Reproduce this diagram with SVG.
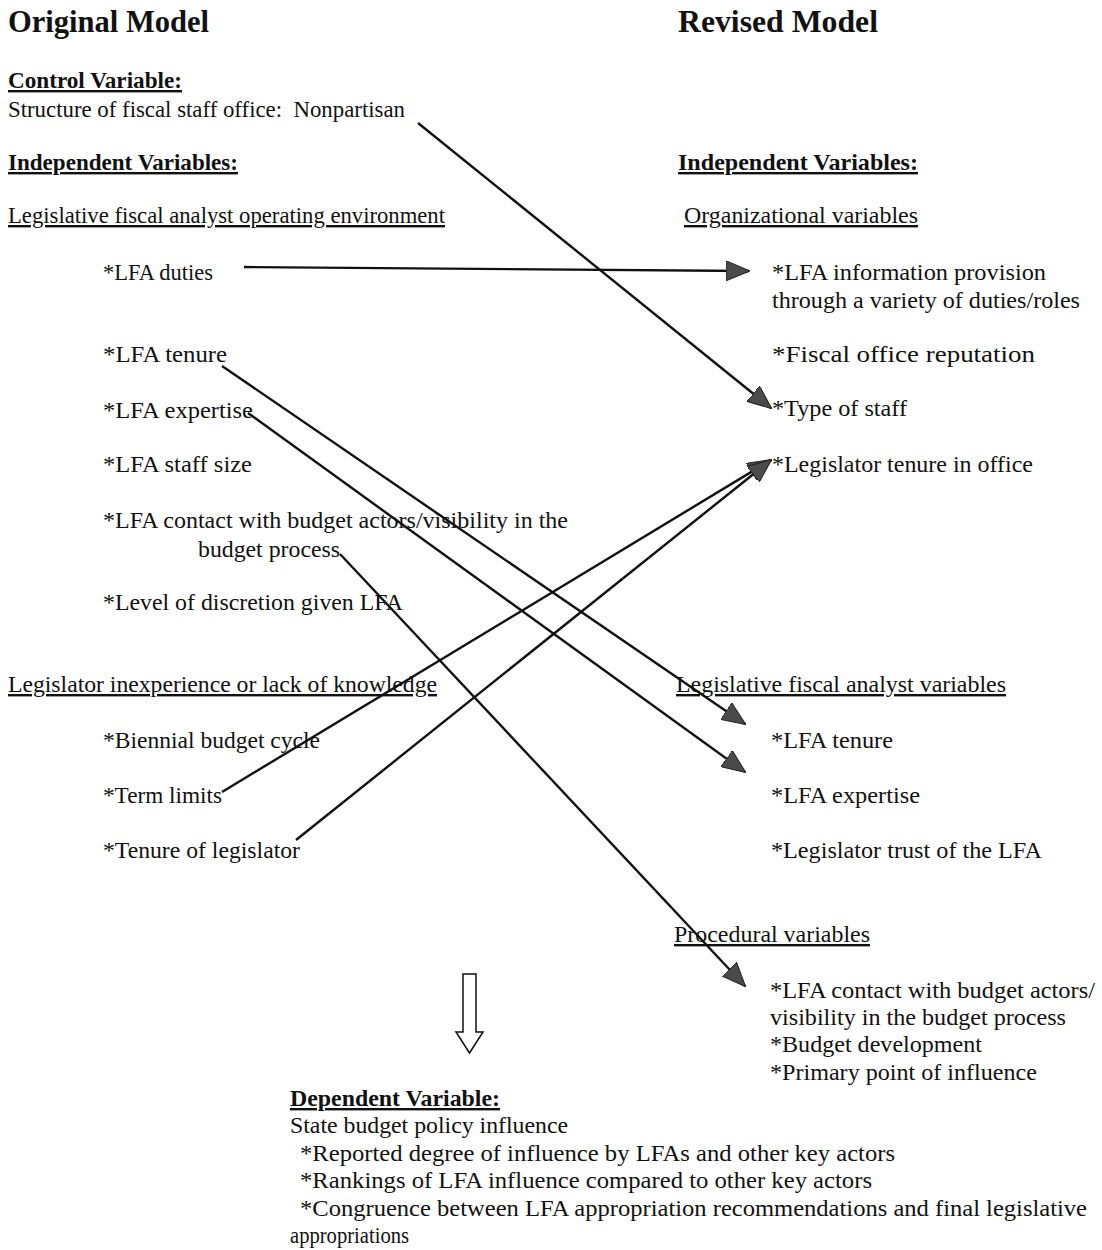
<svg xmlns="http://www.w3.org/2000/svg" width="1102" height="1250" viewBox="0 0 1102 1250">
<style>
text{font-family:"Liberation Serif","Times New Roman",serif;font-size:24px;fill:#111}
.h{font-weight:bold;font-size:31px}
.b{font-weight:bold}
.u{text-decoration:underline}
.c{stroke:#111;stroke-width:2.4;fill:none}
</style>
<defs>
<marker id="ah" markerUnits="userSpaceOnUse" viewBox="0 0 24 20" markerWidth="24" markerHeight="20" refX="23" refY="10" orient="auto">
<path d="M0,0 L24,10 L0,20 Z" fill="#4a4a4a" stroke="#222" stroke-width="1"/>
</marker>
</defs>
<rect width="1102" height="1250" fill="#fff"/>

<g id="titles">
<text class="h" x="8" y="32" textLength="201" lengthAdjust="spacingAndGlyphs">Original Model</text>
<text class="h" x="678" y="32" textLength="200" lengthAdjust="spacingAndGlyphs">Revised Model</text>
</g>

<g id="control">
<text class="b u" x="8" y="88" textLength="174" lengthAdjust="spacingAndGlyphs">Control Variable:</text>
<text id="n-structure" x="8" y="117" textLength="397" lengthAdjust="spacingAndGlyphs" xml:space="preserve">Structure of fiscal staff office:  Nonpartisan</text>
</g>

<g id="left-independent">
<text class="b u" x="8" y="170" textLength="230" lengthAdjust="spacingAndGlyphs">Independent Variables:</text>
<text class="u" x="8" y="223" textLength="437" lengthAdjust="spacingAndGlyphs">Legislative fiscal analyst operating environment</text>
<text id="n-lfa-duties" x="103" y="280" textLength="110" lengthAdjust="spacingAndGlyphs">*LFA duties</text>
<text id="n-lfa-tenure" x="103" y="362" textLength="124" lengthAdjust="spacingAndGlyphs">*LFA tenure</text>
<text id="n-lfa-expertise" x="103" y="418" textLength="150" lengthAdjust="spacingAndGlyphs">*LFA expertise</text>
<text id="n-lfa-staff" x="103" y="472" textLength="149" lengthAdjust="spacingAndGlyphs">*LFA staff size</text>
<g id="n-lfa-contact">
<text x="103" y="528" textLength="465" lengthAdjust="spacingAndGlyphs">*LFA contact with budget actors/visibility in the</text>
<text x="198" y="557" textLength="142" lengthAdjust="spacingAndGlyphs">budget process</text>
</g>
<text id="n-discretion" x="103" y="610" textLength="300" lengthAdjust="spacingAndGlyphs">*Level of discretion given LFA</text>
<text class="u" x="8" y="692" textLength="429" lengthAdjust="spacingAndGlyphs">Legislator inexperience or lack of knowledge</text>
<text id="n-biennial" x="103" y="748" textLength="217" lengthAdjust="spacingAndGlyphs">*Biennial budget cycle</text>
<text id="n-term-limits" x="103" y="803" textLength="119" lengthAdjust="spacingAndGlyphs">*Term limits</text>
<text id="n-tenure-leg" x="103" y="858" textLength="197" lengthAdjust="spacingAndGlyphs">*Tenure of legislator</text>
</g>

<g id="right-independent">
<text class="b u" x="678" y="170" textLength="240" lengthAdjust="spacingAndGlyphs">Independent Variables:</text>
<text class="u" x="684" y="223" textLength="234" lengthAdjust="spacingAndGlyphs">Organizational variables</text>
<g id="n-info-provision">
<text x="772" y="280" textLength="274" lengthAdjust="spacingAndGlyphs">*LFA information provision</text>
<text x="772" y="308" textLength="308" lengthAdjust="spacingAndGlyphs">through a variety of duties/roles</text>
</g>
<text id="n-reputation" x="772" y="362" textLength="263" lengthAdjust="spacingAndGlyphs">*Fiscal office reputation</text>
<text id="n-type-staff" x="772" y="416" textLength="135" lengthAdjust="spacingAndGlyphs">*Type of staff</text>
<text id="n-leg-tenure-office" x="772" y="472" textLength="261" lengthAdjust="spacingAndGlyphs">*Legislator tenure in office</text>
<text class="u" x="676" y="692" textLength="330" lengthAdjust="spacingAndGlyphs">Legislative fiscal analyst variables</text>
<text id="n-r-lfa-tenure" x="771" y="748" textLength="122" lengthAdjust="spacingAndGlyphs">*LFA tenure</text>
<text id="n-r-lfa-expertise" x="771" y="803" textLength="149" lengthAdjust="spacingAndGlyphs">*LFA expertise</text>
<text id="n-trust" x="771" y="858" textLength="271" lengthAdjust="spacingAndGlyphs">*Legislator trust of the LFA</text>
<text class="u" x="674" y="942" textLength="196" lengthAdjust="spacingAndGlyphs">Procedural variables</text>
<g id="n-r-lfa-contact">
<text x="770" y="998" textLength="325" lengthAdjust="spacingAndGlyphs">*LFA contact with budget actors/</text>
<text x="770" y="1025" textLength="296" lengthAdjust="spacingAndGlyphs">visibility in the budget process</text>
</g>
<text id="n-budget-dev" x="770" y="1052" textLength="212" lengthAdjust="spacingAndGlyphs">*Budget development</text>
<text id="n-primary-point" x="770" y="1080" textLength="267" lengthAdjust="spacingAndGlyphs">*Primary point of influence</text>
</g>

<g id="dependent">
<text class="b u" x="290" y="1106" textLength="210" lengthAdjust="spacingAndGlyphs">Dependent Variable:</text>
<text x="290" y="1133" textLength="278" lengthAdjust="spacingAndGlyphs">State budget policy influence</text>
<text x="300" y="1161" textLength="595" lengthAdjust="spacingAndGlyphs">*Reported degree of influence by LFAs and other key actors</text>
<text x="300" y="1188" textLength="572" lengthAdjust="spacingAndGlyphs">*Rankings of LFA influence compared to other key actors</text>
<text x="300" y="1216" textLength="787" lengthAdjust="spacingAndGlyphs">*Congruence between LFA appropriation recommendations and final legislative</text>
<text x="290" y="1243" textLength="119" lengthAdjust="spacingAndGlyphs">appropriations</text>
</g>

<g id="connectors">
<line class="c" x1="244" y1="267" x2="749" y2="271" marker-end="url(#ah)"/>
<line class="c" x1="418" y1="123" x2="771" y2="408" marker-end="url(#ah)"/>
<line class="c" x1="222" y1="366" x2="745" y2="724" marker-end="url(#ah)"/>
<line class="c" x1="248" y1="413" x2="745" y2="772" marker-end="url(#ah)"/>
<line class="c" x1="340" y1="554" x2="745" y2="986" marker-end="url(#ah)"/>
<line class="c" x1="222" y1="792" x2="771" y2="460" marker-end="url(#ah)"/>
<line class="c" x1="296" y1="840" x2="771" y2="460" marker-end="url(#ah)"/>
<path id="flow-arrow" d="M463,974 L476,974 L476,1032 L483,1032 L469.5,1053 L456,1032 L463,1032 Z" fill="#fff" stroke="#111" stroke-width="1.5"/>
</g>
</svg>
